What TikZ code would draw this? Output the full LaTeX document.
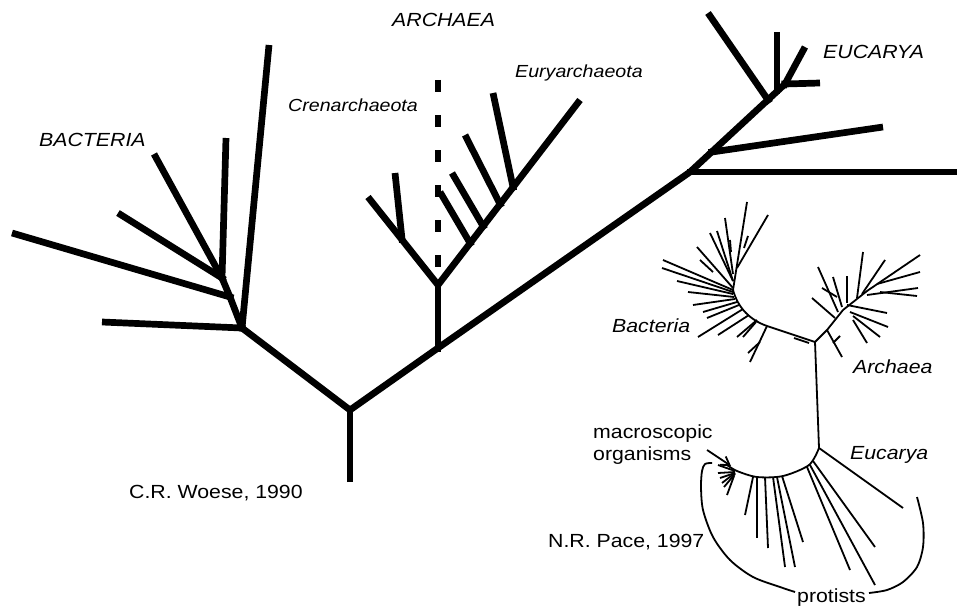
\documentclass[tikz,border=0pt]{standalone}
\usepackage{fontspec}
\setmainfont{Liberation Sans}
\newfontfamily\lblfont[FakeStretch=1.12]{Liberation Sans}
\usetikzlibrary{arrows.meta}
\begin{document}
\begin{tikzpicture}[x=1pt,y=-1pt,
  woese/.style={line width=6.7pt,line join=miter},
  wbr/.style={woese,shorten >=-3.5pt},
  pace/.style={line width=1.8pt,line join=round},
  lbl/.style={inner sep=0pt,anchor=base west,font=\lblfont\fontsize{19}{22}\selectfont},
  ilbl/.style={lbl,font=\lblfont\fontsize{19}{22}\selectfont\itshape},
  slbl/.style={lbl,font=\lblfont\fontsize{17.5}{21}\selectfont\itshape}]
\useasboundingbox (0,0) rectangle (957,607);

% ---------------- Woese 1990 tree ----------------
\coordinate (r0) at (350,482);
\coordinate (R) at (350,410);
\coordinate (B) at (242,328);
\coordinate (b1) at (230,297);
\coordinate (b2) at (222,278);
\coordinate (A) at (438,348);
\coordinate (a) at (438,285);
\coordinate (E1) at (690,172);
\coordinate (E2) at (712,152);
\coordinate (E3) at (768,100);
\coordinate (E4) at (777,91);
\coordinate (E5) at (785,84);

% trunk
\draw[woese] (B) -- (R) -- (A) -- (E1) -- (E5);
\draw[wbr] (r0) -- (R);
% bacteria
\draw[woese] (B) -- (b1) -- (b2) -- (226,138);
\draw[wbr] (12,233) -- (b1);
\draw[wbr] (118,213) -- (b2);
\draw[wbr] (154,154) -- (b2);
\draw[wbr] (102,322) -- (B);
\draw[wbr] (269,45) -- (B);
% archaea
\draw[wbr] (a) -- (A);
\draw[woese] (368,197) -- (a) -- (580,100);
\draw[wbr] (395,173) -- (402,239);
\draw[wbr] (440,192) -- (470,243);
\draw[wbr] (452,173) -- (483,226);
\draw[wbr] (465,135) -- (500,204);
\draw[wbr] (493,93) -- (513,187);
\draw[line width=6.7pt,dash pattern=on 12pt off 23pt] (438,80) -- (438,270);
% eucarya
\draw[wbr] (957,172) -- (E1);
\draw[wbr] (883,127) -- (E2);
\draw[wbr] (708,13) -- (E3);
\draw[wbr] (777,32) -- (E4);
\draw[wbr] (805,47) -- (E5);
\draw[wbr] (820,83) -- (E5);

% labels
\node[ilbl] (lArch) at (392,27) {ARCHAEA};
\node[slbl] (lCren) at (288,111) {Crenarchaeota};
\node[slbl] (lEury) at (515,78) {Euryarchaeota};
\node[ilbl] (lBact) at (39,146) {BACTERIA};
\node[ilbl] (lEuca) at (823,59) {EUCARYA};
\node[lbl] (lWoese) at (129,498) {C.R. Woese, 1990};

% ---------------- Pace 1997 tree ----------------
\coordinate (N0) at (815,342);
\coordinate (E0) at (819,448);
\draw[pace] (N0) -- (E0);
% bacteria stem
\draw[pace] (N0) -- (767,326) .. controls (750,320) and (738,308) .. (733,290) -- (747,202);
\draw[pace] (794,338) -- (809,343);
\foreach \xa/\ya/\xb/\yb in {
  737/268/768/215, 744/248/748/236, 733/274/725/218, 731/252/730/240,
  733/281/710/233, 733/281/717/231, 733/288/697/247, 713/272/700/260,
  733/290/663/260, 733/292/662/268, 733/294/677/281, 734/297/688/292,
  735/299/693/305, 737/302/703/312, 739/305/707/318, 743/309/698/337,
  749/315/718/335, 757/320/737/337, 756/322/743/337, 767/326/750/362,
  760/342/748/353}
  \draw[pace] (\xa,\ya) -- (\xb,\yb);
% archaea stem
\draw[pace] (N0) -- (827,330) -- (843,310) -- (867,291) -- (920,255);
\foreach \xa/\ya/\xb/\yb in {
  857/298/863/252, 862/294/885/260, 838/312/818/267, 842/307/833/277,
  847/303/847/276, 835/318/812/298, 822/288/837/297, 867/295/918/288,
  880/292/917/296, 877/284/920/272, 847/305/887/313, 850/312/888/327,
  853/316/880/337, 853/320/867/343, 827/330/842/357, 833/343/840/336}
  \draw[pace] (\xa,\ya) -- (\xb,\yb);
% eucarya stem
\draw[pace] plot[smooth] coordinates {(E0) (809,465) (783,476) (757,477) (737,471) (727,465)};
\foreach \xa/\ya/\xb/\yb in {
  753/477/745/515, 757/477/757/538, 765/477/768/548, 773/477/785/567,
  777/477/795/567, 782/476/803/542, 807/467/850/570, 810/465/875/585,
  813/461/875/547, 819/448/903/508,
  735/471/718/465, 735/472/718/473, 735/473/720/478, 735/473/722/483,
  735/474/724/487, 734/476/727/495}
  \draw[pace] (\xa,\ya) -- (\xb,\yb);
% arrow to macroscopic organisms
\coordinate (arS) at (707,450);
\coordinate (arE) at (731,466);
\draw[pace,-{Straight Barb[length=8pt,width=10pt]}] (arS) -- (arE);
% protist brackets
\draw[pace] plot[smooth] coordinates {(712,463) (705,464) (702,471) (701,487) (703,510) (713,537) (730,560) (753,577) (780,587) (795,592)};
\draw[pace] plot[smooth] coordinates {(869,593) (887,590) (903,582) (917,567) (923,547) (923,523) (917,497)};

% labels
\node[ilbl] (pBact) at (612,332) {Bacteria};
\node[ilbl] (pArch) at (853,373) {Archaea};
\node[ilbl] (pEuca) at (850,459) {Eucarya};
\node[lbl] (pMacro) at (593,438) {macroscopic};
\node[lbl] (pOrg) at (593,460) {organisms};
\node[lbl] (pPace) at (548,547) {N.R. Pace, 1997};
\node[lbl] (pProt) at (797,602) {protists};
\end{tikzpicture}
\end{document}
